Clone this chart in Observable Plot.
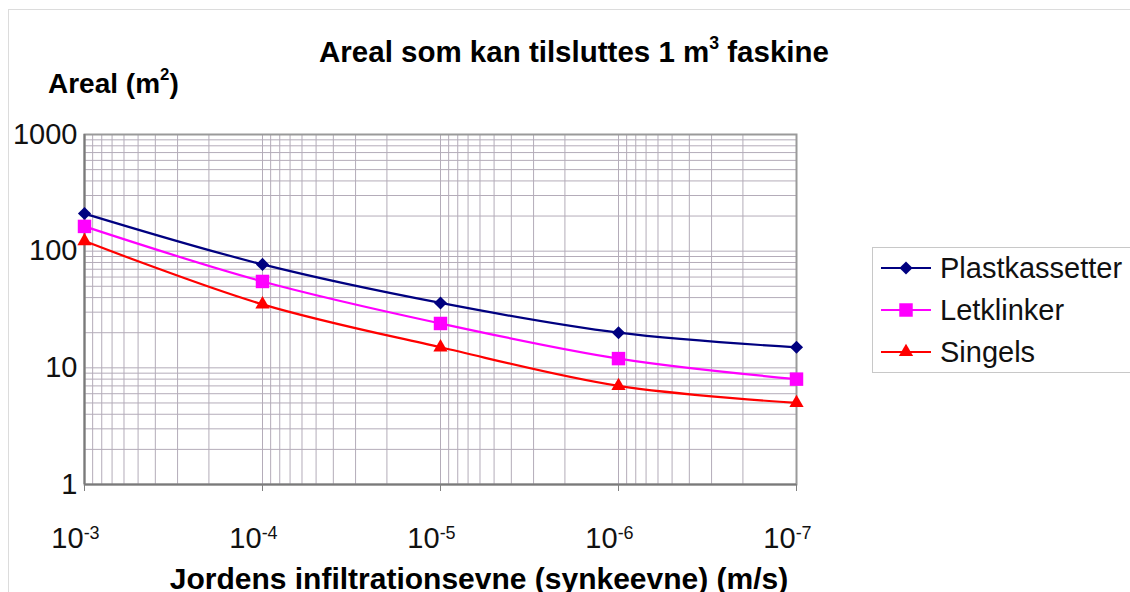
<!DOCTYPE html>
<html>
<head>
<meta charset="utf-8">
<script src="https://cdn.jsdelivr.net/npm/d3@7"></script>
<script src="https://cdn.jsdelivr.net/npm/@observablehq/plot@0.6"></script>
<style>
  body { margin: 0; background: #fff; font-family: "Liberation Sans", Arial, sans-serif; }
  #wrap { position: relative; width: 1130px; height: 592px; overflow: hidden; background: #fff; }
  #border { position: absolute; left: 8px; top: 9px; width: 1200px; height: 700px; border-left: 1px solid #dcdcdc; border-top: 1px solid #dcdcdc; }
  #chart { position: absolute; left: 0; top: 0; }
  .txt { position: absolute; white-space: nowrap; color: #000; font-weight: bold; }
  #title { left: 0; width: 1148px; text-align: center; top: 37px; font-size: 29.5px; line-height: 30px; }
  #ylab { left: 48px; top: 70px; font-size: 28px; line-height: 28px; }
  #xlab { left: 0; width: 958px; text-align: center; top: 564px; font-size: 30px; line-height: 30px; }
  sup { font-size: 0.6em; vertical-align: 0; position: relative; top: -0.75em; }
  #legend { position: absolute; left: 872px; top: 247px; width: 300px; height: 124px; border: 1px solid #c8c8c8; background: #fff; }
  .row { position: absolute; left: 7px; height: 28px; line-height: 28px; font-size: 29px; color: #111; }
  .row svg { position: absolute; left: 0; top: 0; }
  .row span { position: absolute; left: 60px; top: 0; }
</style>
</head>
<body>
<div id="wrap">
  <div id="border"></div>
  <div id="chart"></div>
  <div class="txt" id="title">Areal som kan tilsluttes 1 m<sup>3</sup> faskine</div>
  <div class="txt" id="ylab">Areal (m<sup>2</sup>)</div>
  <div class="txt" id="xlab">Jordens infiltrationsevne (synkeevne) (m/s)</div>
  <div id="legend"></div>
</div>
<script>
// ---- data ----
const infiltration = [1e-3, 1e-4, 1e-5, 1e-6, 1e-7];
const plastkassetter = [210, 77, 36, 20, 15];
const letklinker = [163, 55, 24, 12, 8];
const singels = [122, 35, 15, 7, 5];
const seriesNames = ["Plastkassetter", "Letklinker", "Singels"];
const seriesColors = ["#000080", "#ff00ff", "#ff0000"];
const seriesSymbols = ["diamond2", "square", "triangle"];
const seriesR = [5.9, 7.6, 5.3];
const xTicks = [1e-3, 1e-4, 1e-5, 1e-6, 1e-7];
const xTickBase = "10";
const xTickExp = ["-3", "-4", "-5", "-6", "-7"];
const yTicks = [1, 10, 100, 1000];
const yTickLabels = ["1", "10", "100", "1000"];

const seriesValues = [plastkassetter, letklinker, singels];
const rows = [];
seriesNames.forEach((name, s) => {
  infiltration.forEach((x, i) => rows.push({ series: name, x, y: seriesValues[s][i] }));
});

const xGrid = d3.scaleLog().domain([xTicks[xTicks.length - 1], xTicks[0]]).ticks();
const yGrid = d3.scaleLog().domain([yTicks[0], yTicks[yTicks.length - 1]]).ticks();

const marks = [
  Plot.ruleX(xGrid, { stroke: "#b4acb9", strokeWidth: 1 }),
  Plot.ruleY(yGrid, { stroke: "#b4acb9", strokeWidth: 1 }),
  Plot.frame({ stroke: "#9a9a9a", strokeWidth: 2 }),
  Plot.ruleX([xTicks[0]], { stroke: "#7a7a7a", strokeWidth: 2 }),
  Plot.ruleY([yTicks[0]], { stroke: "#7a7a7a", strokeWidth: 2 }),
  Plot.axisY({ ticks: yTicks, tickFormat: (d) => yTickLabels[yTicks.indexOf(d)], tickSize: 0, tickPadding: 7, fontSize: 29, label: null, fill: "#111" }),
  Plot.axisX({ ticks: xTicks, tickFormat: () => "", tickSize: 7, label: null, stroke: "#808080" }),
  Plot.axisX({ ticks: xTicks, tickFormat: () => xTickBase, tickSize: 0, tickPadding: 43, fontSize: 29, label: null, fill: "#111", dx: -9 })
];
seriesNames.forEach((name, s) => {
  const data = rows.filter((d) => d.series === name);
  marks.push(Plot.line(data, { x: "x", y: "y", stroke: seriesColors[s], strokeWidth: 2.2, curve: "catmull-rom" }));
  marks.push(Plot.dot(data, { x: "x", y: "y", symbol: seriesSymbols[s], r: seriesR[s], fill: seriesColors[s], stroke: "none" }));
});

const chart = Plot.plot({
  width: 1130,
  height: 592,
  marginLeft: 84,
  marginRight: 334,
  marginTop: 134,
  marginBottom: 108,
  style: { fontFamily: "Liberation Sans, Arial, sans-serif", background: "transparent" },
  x: { type: "log", domain: [xTicks[0], xTicks[xTicks.length - 1]] },
  y: { type: "log", domain: [yTicks[0], yTicks[yTicks.length - 1]] },
  marks
});
document.getElementById("chart").appendChild(chart);

// superscript exponents on x tick labels
let k = 0;
d3.select(chart).selectAll('[aria-label="x-axis tick label"] text').each(function () {
  const t = d3.select(this);
  if (t.text() !== xTickBase) return;
  t.append("tspan").attr("dy", "-0.5em").attr("font-size", "18px").text(xTickExp[k++]);
});

// legend
const legend = d3.select("#legend");
seriesNames.forEach((name, s) => {
  const row = legend.append("div").attr("class", "row").style("top", (6 + 42 * s) + "px");
  const svg = row.append("svg").attr("width", 56).attr("height", 28);
  svg.append("line").attr("x1", 1).attr("x2", 51).attr("y1", 14).attr("y2", 14)
    .attr("stroke", seriesColors[s]).attr("stroke-width", 2.2);
  const symType = { diamond2: d3.symbolDiamond2, square: d3.symbolSquare, triangle: d3.symbolTriangle }[seriesSymbols[s]];
  svg.append("path").attr("transform", "translate(26,14)")
    .attr("d", d3.symbol(symType, Math.PI * seriesR[s] * seriesR[s])())
    .attr("fill", seriesColors[s]);
  row.append("span").text(name);
});
</script>
</body>
</html>
